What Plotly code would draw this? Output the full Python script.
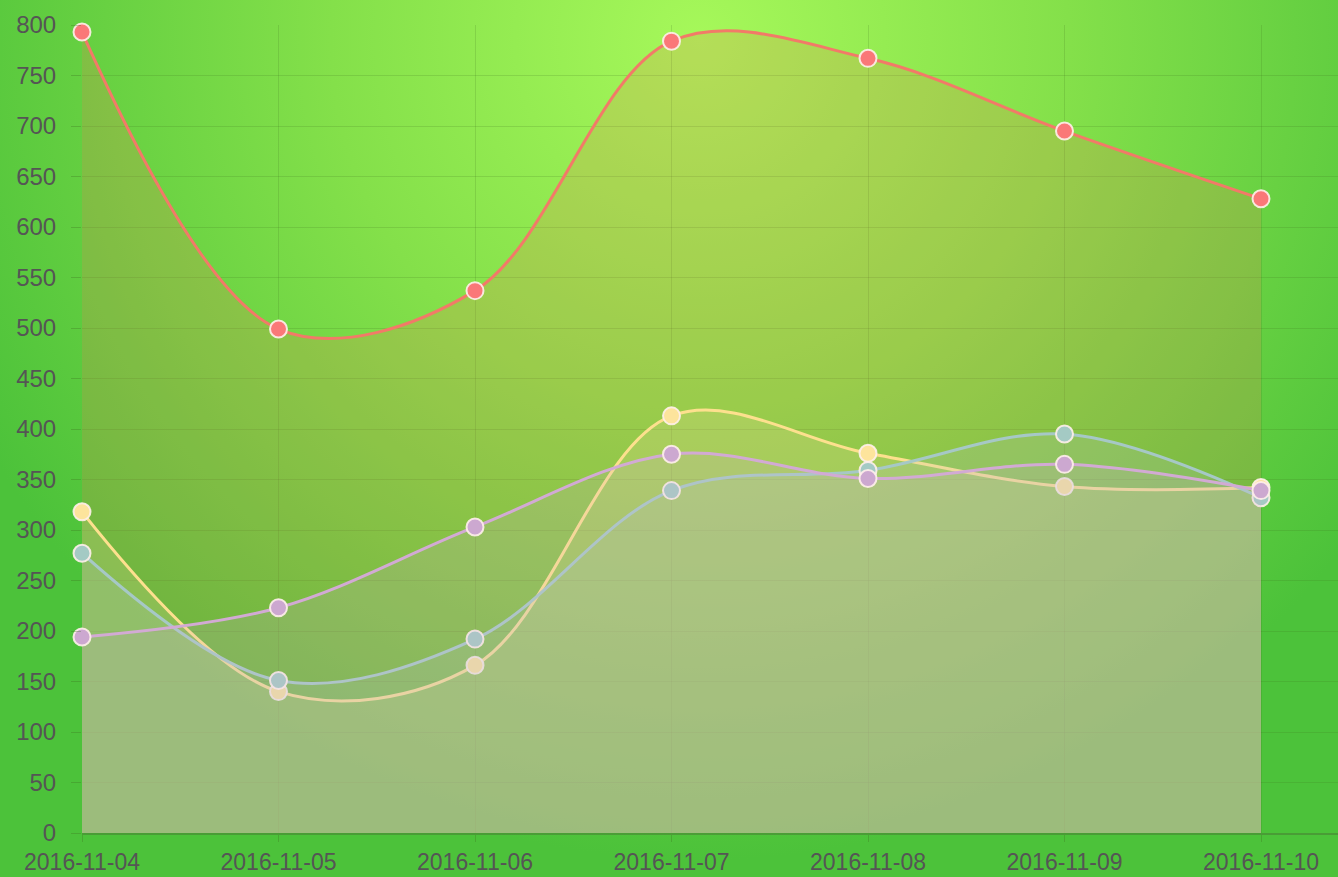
import base64
import plotly.graph_objects as go

dates = ["2016-11-04", "2016-11-05", "2016-11-06", "2016-11-07",
         "2016-11-08", "2016-11-09", "2016-11-10"]
red_vals = [793, 499, 537, 784, 767, 695, 628]
yellow_vals = [318, 140, 166, 413, 376, 343, 342]
blue_vals = [277, 151, 192, 339, 359, 395, 332]
purple_vals = [194, 223, 303, 375, 351, 365, 339]
y_ticks = list(range(0, 801, 50))

W, H = 1338, 877
ML, MR, MT, MB = 82, 0, 25, 44
PW, PH = W - ML - MR, H - MT - MB

svg = (
    f"<svg xmlns='http://www.w3.org/2000/svg' width='{W}' height='{H}'>"
    "<defs><radialGradient id='g' cx='700' cy='40' r='820' gradientUnits='userSpaceOnUse'>"
    "<stop offset='0' stop-color='#a6f85a'/>"
    "<stop offset='0.45' stop-color='#84e04a'/>"
    "<stop offset='1' stop-color='#4cc23a'/>"
    "</radialGradient></defs>"
    f"<rect width='{W}' height='{H}' fill='url(#g)'/></svg>"
)
bg_src = "data:image/svg+xml;base64," + base64.b64encode(svg.encode()).decode()

series = [
    ("red", red_vals, "#f27a68", "#fa7878", "rgba(230,130,80,0.22)"),
    ("yellow", yellow_vals, "#fde08e", "#fde49c", "rgba(245,225,160,0.2)"),
    ("blue", blue_vals, "#a6c8c6", "#a4cac4", "rgba(180,200,200,0.2)"),
    ("purple", purple_vals, "#d2aad4", "#cca8d0", "rgba(210,180,210,0.18)"),
]

fig = go.Figure()
for name, vals, lc, mc, fc in series:
    fig.add_trace(go.Scatter(
        x=dates, y=vals, name=name, mode="lines+markers",
        line=dict(color=lc, width=3, shape="spline", smoothing=1.0),
        marker=dict(size=17, color=mc, line=dict(color="rgba(255,240,235,0.9)", width=2)),
        fill="tozeroy", fillcolor=fc, cliponaxis=False, showlegend=False,
    ))

fig.update_layout(
    width=W, height=H,
    margin=dict(l=ML, r=MR, t=MT, b=MB),
    paper_bgcolor="#5cc83e",
    plot_bgcolor="rgba(0,0,0,0)",
    font=dict(family="Liberation Sans, Arial, sans-serif", size=24, color="#555555"),
    images=[dict(
        source=bg_src, xref="paper", yref="paper",
        x=-ML / PW, y=1 + MT / PH, sizex=W / PW, sizey=H / PH,
        xanchor="left", yanchor="top", sizing="stretch", layer="below",
    )],
    xaxis=dict(
        type="category", range=[0, (PW) / ((1261 - 82) / 6)],
        showgrid=True, gridcolor="rgba(60,110,30,0.18)", gridwidth=1,
        ticks="outside", ticklen=7, tickcolor="rgba(60,110,30,0.3)",
        showline=True, linecolor="rgba(70,110,50,0.45)", linewidth=2,
        zeroline=False, tickfont=dict(size=23, color="#555555"),
    ),
    yaxis=dict(
        range=[0, 800], tickvals=y_ticks,
        showgrid=True, gridcolor="rgba(60,110,30,0.18)", gridwidth=1,
        ticks="outside", ticklen=10, tickcolor="rgba(60,110,30,0.3)",
        showline=False, zeroline=False, ticklabelstandoff=10,
        tickfont=dict(size=24, color="#555555"),
    ),
)

fig.write_html("out.html", config={"displayModeBar": False},
               post_script="document.body.style.margin='0';document.body.style.overflow='hidden';")
